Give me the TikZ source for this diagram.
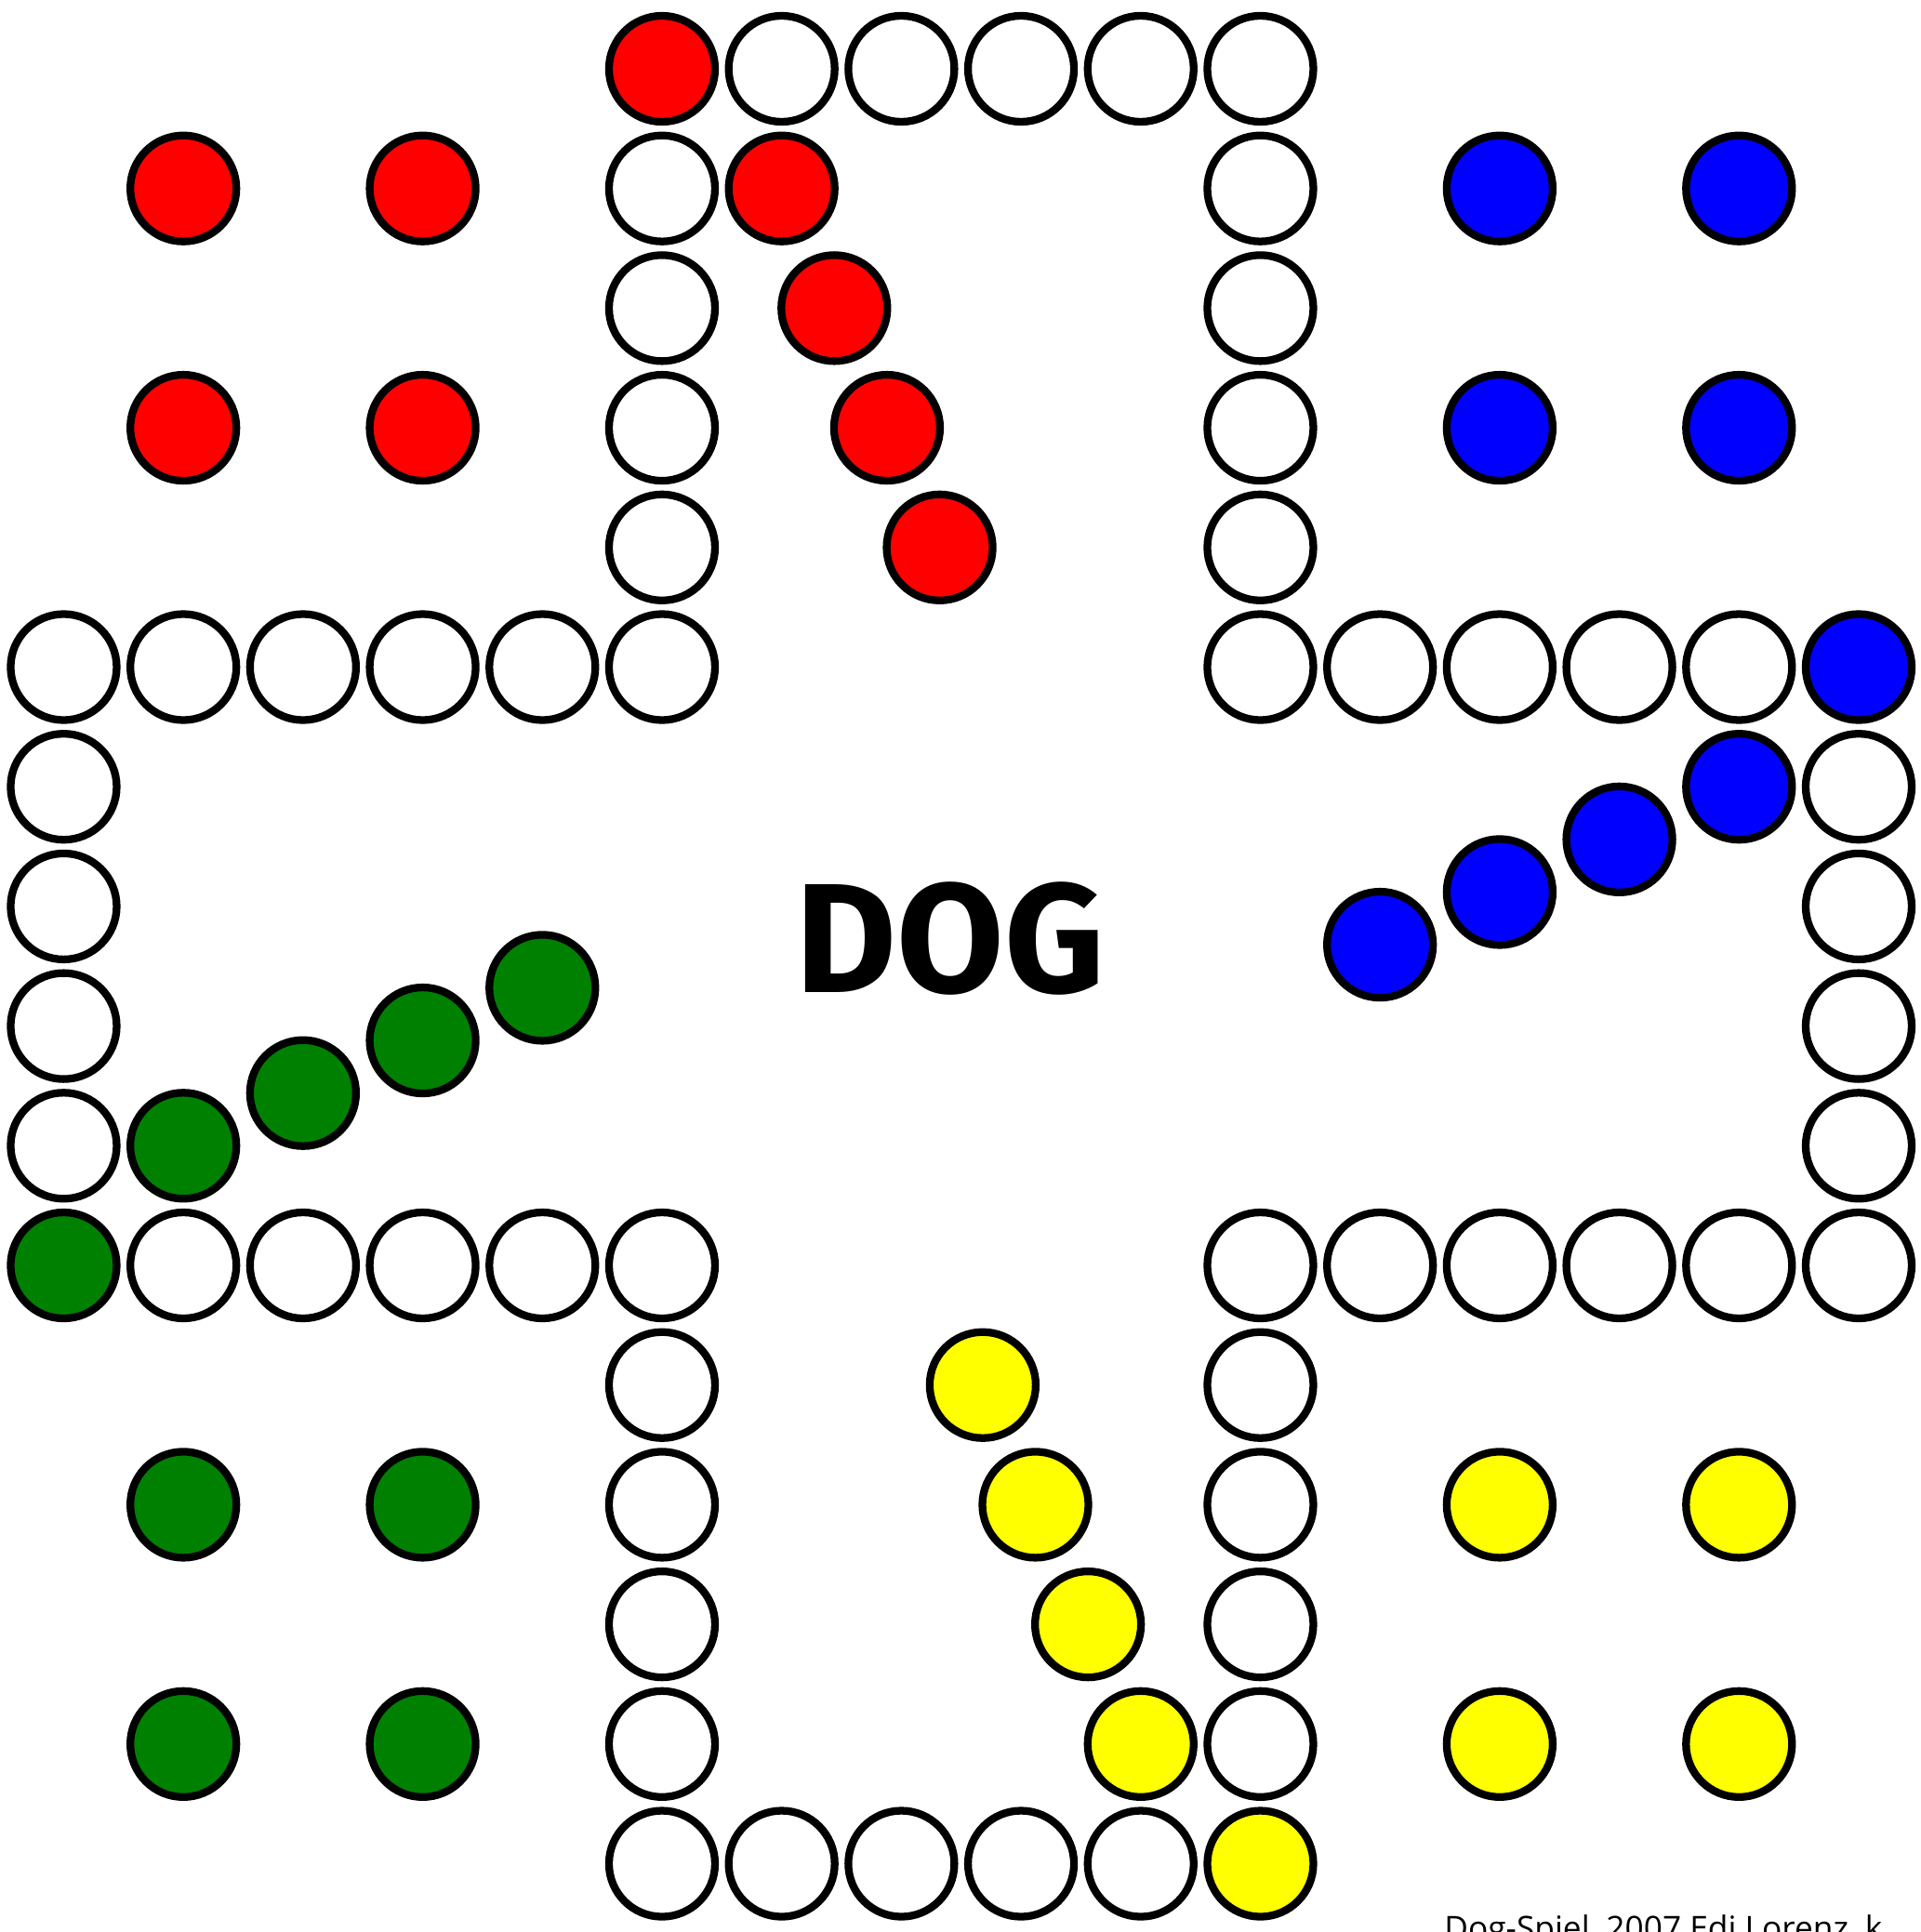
\documentclass[tikz,border=0pt]{standalone}
\usepackage{fontspec}
\setmainfont{Open Sans}
\newfontfamily\dogfont{Fira Sans}
\usetikzlibrary{positioning}
\definecolor{cred}{HTML}{FF0000}
\definecolor{cblue}{HTML}{0000FF}
\definecolor{cgreen}{HTML}{008000}
\definecolor{cyellow}{HTML}{FFFF00}

\begin{document}
\begin{tikzpicture}[x=1cm, y=-1cm]
    \clip (-0.532, -0.575) rectangle (15.513, 15.571);
    \begin{scope}[
        field/.style={circle, draw=black, line width=1.83pt, minimum size=8.86mm, inner sep=0pt, fill=white},
        redpin/.style={field, fill=cred},
        bluepin/.style={field, fill=cblue},
        greenpin/.style={field, fill=cgreen},
        yellowpin/.style={field, fill=cyellow},
        title/.style={font=\dogfont\bfseries\fontsize{37}{40}\selectfont},
        credit/.style={font=\fontsize{7.8}{9}\selectfont, anchor=base west, inner sep=0pt}
    ]
        % ================= TRACK: top arm =================
        \node[redpin] (field_01) at (5, 0) {}; \node[field] (field_02) at (6, 0) {}; \node[field] (field_03) at (7, 0) {};
        \node[field] (field_04) at (8, 0) {}; \node[field] (field_05) at (9, 0) {}; \node[field] (field_06) at (10, 0) {};
        \node[field] (field_07) at (10, 1) {}; \node[field] (field_08) at (10, 2) {};
        \node[field] (field_09) at (10, 3) {}; \node[field] (field_10) at (10, 4) {};

        % ================= TRACK: right arm =================
        \node[field] (field_11) at (10, 5) {}; \node[field] (field_12) at (11, 5) {}; \node[field] (field_13) at (12, 5) {};
        \node[field] (field_14) at (13, 5) {}; \node[field] (field_15) at (14, 5) {}; \node[bluepin] (field_16) at (15, 5) {};
        \node[field] (field_17) at (15, 6) {}; \node[field] (field_18) at (15, 7) {};
        \node[field] (field_19) at (15, 8) {}; \node[field] (field_20) at (15, 9) {};
        \node[field] (field_21) at (15, 10) {}; \node[field] (field_22) at (14, 10) {}; \node[field] (field_23) at (13, 10) {};
        \node[field] (field_24) at (12, 10) {}; \node[field] (field_25) at (11, 10) {}; \node[field] (field_26) at (10, 10) {};

        % ================= TRACK: bottom arm =================
        \node[field] (field_27) at (10, 11) {}; \node[field] (field_28) at (10, 12) {};
        \node[field] (field_29) at (10, 13) {}; \node[field] (field_30) at (10, 14) {};
        \node[yellowpin] (field_31) at (10, 15) {}; \node[field] (field_32) at (9, 15) {}; \node[field] (field_33) at (8, 15) {};
        \node[field] (field_34) at (7, 15) {}; \node[field] (field_35) at (6, 15) {}; \node[field] (field_36) at (5, 15) {};
        \node[field] (field_37) at (5, 14) {}; \node[field] (field_38) at (5, 13) {};
        \node[field] (field_39) at (5, 12) {}; \node[field] (field_40) at (5, 11) {};

        % ================= TRACK: left arm =================
        \node[field] (field_41) at (5, 10) {}; \node[field] (field_42) at (4, 10) {}; \node[field] (field_43) at (3, 10) {};
        \node[field] (field_44) at (2, 10) {}; \node[field] (field_45) at (1, 10) {}; \node[greenpin] (field_46) at (0, 10) {};
        \node[field] (field_47) at (0, 9) {}; \node[field] (field_48) at (0, 8) {};
        \node[field] (field_49) at (0, 7) {}; \node[field] (field_50) at (0, 6) {};
        \node[field] (field_51) at (0, 5) {}; \node[field] (field_52) at (1, 5) {}; \node[field] (field_53) at (2, 5) {};
        \node[field] (field_54) at (3, 5) {}; \node[field] (field_55) at (4, 5) {}; \node[field] (field_56) at (5, 5) {};
        \node[field] (field_57) at (5, 4) {}; \node[field] (field_58) at (5, 3) {};
        \node[field] (field_59) at (5, 2) {}; \node[field] (field_60) at (5, 1) {};

        % ================= HOMES =================
        \node[redpin] (red_home_1) at (1, 1) {}; \node[redpin] (red_home_2) at (3, 1) {};
        \node[redpin] (red_home_3) at (1, 3) {}; \node[redpin] (red_home_4) at (3, 3) {};
        \node[bluepin] (blue_home_1) at (12, 1) {}; \node[bluepin] (blue_home_2) at (14, 1) {};
        \node[bluepin] (blue_home_3) at (12, 3) {}; \node[bluepin] (blue_home_4) at (14, 3) {};
        \node[greenpin] (green_home_1) at (1, 12) {}; \node[greenpin] (green_home_2) at (3, 12) {};
        \node[greenpin] (green_home_3) at (1, 14) {}; \node[greenpin] (green_home_4) at (3, 14) {};
        \node[yellowpin] (yellow_home_1) at (12, 12) {}; \node[yellowpin] (yellow_home_2) at (14, 12) {};
        \node[yellowpin] (yellow_home_3) at (12, 14) {}; \node[yellowpin] (yellow_home_4) at (14, 14) {};

        % ================= GOALS =================
        \node[redpin] (red_goal_1) at (6, 1) {}; \node[redpin] (red_goal_2) at (6.44, 2) {};
        \node[redpin] (red_goal_3) at (6.88, 3) {}; \node[redpin] (red_goal_4) at (7.32, 4) {};
        \node[bluepin] (blue_goal_1) at (14, 6) {}; \node[bluepin] (blue_goal_2) at (13, 6.44) {};
        \node[bluepin] (blue_goal_3) at (12, 6.88) {}; \node[bluepin] (blue_goal_4) at (11, 7.32) {};
        \node[yellowpin] (yellow_goal_1) at (9, 14) {}; \node[yellowpin] (yellow_goal_2) at (8.56, 13) {};
        \node[yellowpin] (yellow_goal_3) at (8.12, 12) {}; \node[yellowpin] (yellow_goal_4) at (7.68, 11) {};
        \node[greenpin] (green_goal_1) at (1, 9) {}; \node[greenpin] (green_goal_2) at (2, 8.56) {};
        \node[greenpin] (green_goal_3) at (3, 8.12) {}; \node[greenpin] (green_goal_4) at (4, 7.68) {};

        % ================= TEXT =================
        \node[title] (board_title) at (7.41, 7.27) {DOG};
        \node[credit] (board_credit) at (11.53, 15.64) {Dog-Spiel, 2007 Edi Lorenz, k};
    \end{scope}
\end{tikzpicture}
\end{document}
